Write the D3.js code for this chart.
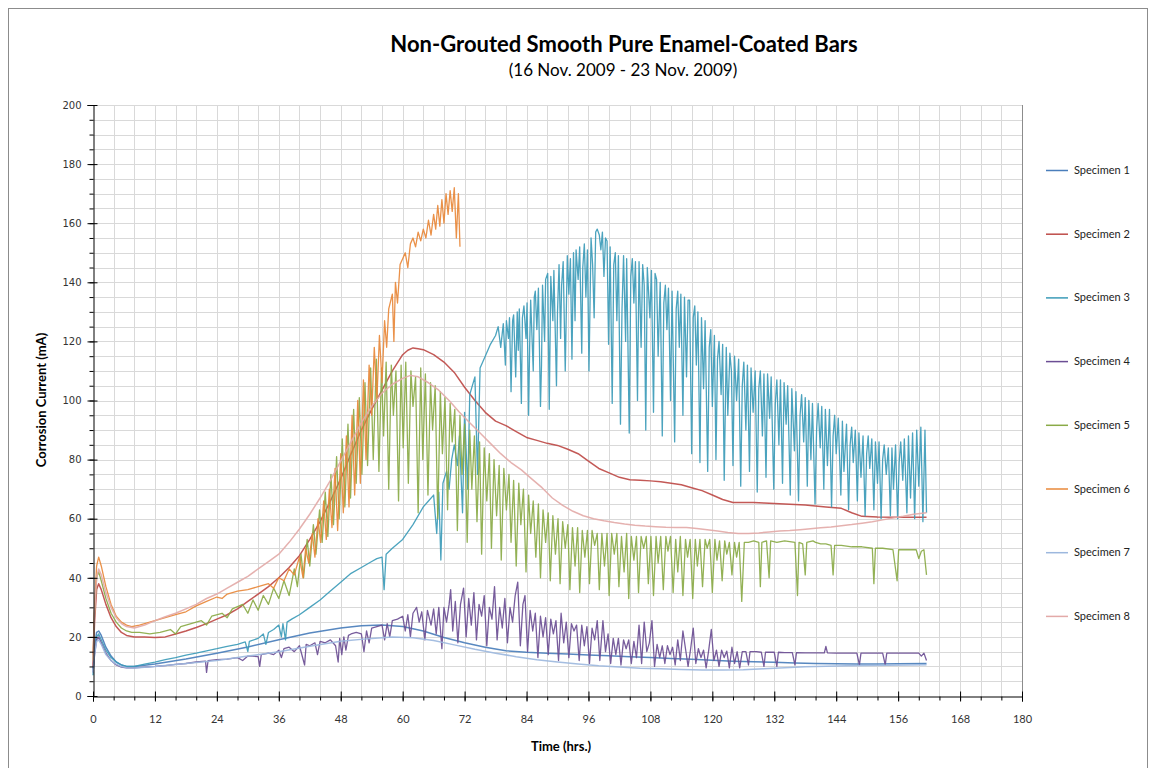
<!DOCTYPE html>
<html><head><meta charset="utf-8">
<script src="https://cdn.jsdelivr.net/npm/d3@7"></script>
<style>body{margin:0;background:#fff} svg{display:block}</style>
</head><body><svg id="c" width="1150" height="768"></svg>
<script>
const xTicks = [0,12,24,36,48,60,72,84,96,108,120,132,144,156,168,180];
const yTicks = [0,20,40,60,80,100,120,140,160,180,200];
const seriesNames = ["Specimen 1","Specimen 2","Specimen 3","Specimen 4","Specimen 5","Specimen 6","Specimen 7","Specimen 8"];
const seriesColors = ["#4A7EBB","#BE4B48","#3C9BB8","#6B4E94","#8AAA47","#E8883A","#9DB8DE","#E3AAA8"];

const spec1 = [[0,9],[0.3,17],[0.7,21.5],[1.1,22],[1.6,20.5],[2.5,16.5],[3.5,13.5],[4.5,11.5],[5.5,10.5],[6.5,10],[8,10],[12,10.8],[18,12.5],[24,14.5],[30,16.6],[36,19],[42,21.3],[48,23],[52,23.8],[56,24],[60,23.5],[64,22],[68,19.8],[72,18],[76,16.5],[80,15.3],[84,14.8],[88,14.5],[92,14.2],[96,13.9],[100,13.6],[104,13.3],[108,13],[112,12.7],[116,12.4],[120,12.1],[124,11.8],[128,11.6],[132,11.4],[136,11.2],[140,11],[144,10.9],[148,10.8],[152,10.8],[156,10.9],[161.5,11]];

const spec2 = [[0,10],[0.3,25],[0.7,36],[1.1,38],[1.6,36],[2.5,31],[3.5,26.5],[4.5,23.5],[5.5,21.5],[6.5,20.5],[8,20],[10,20],[12,19.8],[14,20],[16,21],[18,22],[20,23.2],[22,24.5],[24,26],[26,27.5],[28,29.5],[30,32],[32,34.5],[34,37],[36,40],[38,43.5],[40,47.5],[42,53],[44,59],[46,66],[48,73.5],[50,82],[52,90],[54,97],[56,103.5],[58,110],[60,115.5],[61,117],[62,117.8],[63,117.5],[64,117.2],[66,115.5],[68,113],[70,109.5],[72,104.5],[74,100],[76,96],[78,93],[80,91.5],[82,89.5],[84,87.5],[86,86.5],[88,85.5],[90,84.8],[92,83.5],[94,82],[96,79.5],[98,77],[100,75.5],[102,74],[104,73.2],[106,73],[108,72.8],[110,72.5],[112,72],[114,71.5],[116,70.5],[118,69.5],[120,68],[122,66.5],[124,65.5],[126,65.5],[128,65.5],[130,65.3],[134,65],[138,64.6],[142,64],[145,63.5],[147,62],[149,60.8],[152,60.6],[156,60.5],[161.5,60.5]];

const spec3 = [[0,7],[0.3,15],[0.7,20],[1.1,21],[1.6,19],[2.5,15.5],[3.5,13],[4.5,11.5],[5.5,10.5],[6.5,10],[8,10],[10,10.8],[12,11.5],[14,12.3],[16,13],[18,13.8],[20,14.5],[22,15.3],[24,16],[26,16.8],[28,17.5],[29.5,18.3],[30,15],[30.3,18.5],[32,19.5],[33,21],[33.5,17.5],[34,21.5],[35,22.5],[36,24],[36.5,20],[36.8,24.5],[37.3,19],[37.6,25],[38.5,26],[40,27.5],[42,30],[44,32.5],[45,34],[46,35.5],[48,38.5],[50,41.5],[52,43.5],[54,45.5],[55,46.5],[56,47],[56.4,36],[56.8,48],[58,50],[60,53],[62,58],[64,64],[65,66],[66,68],[66.6,55],[67,69],[67.4,46],[67.8,72],[68.5,76],[69,70],[69.5,80],[70,85],[70.6,78],[71,88],[71.6,62],[72,96],[72.6,70],[73,102],[74,108],[74.5,75],[75,111],[76,115],[77,119],[78,122],[78.5,125],[79,118],
[79.5,126],[79.9,112],[80.1,127],[80.5,121],[80.7,128],[81,103],[81.3,127],[81.5,129],[81.9,108],[82.2,130],[82.4,117],[82.6,131],[83,99],[83.2,128],[83.5,132],[83.9,121],[84.1,133],[84.4,95],[84.6,118],[84.8,134],[85.3,110],[85.5,135],[85.7,137],[86,124],[86.3,138],[86.7,98],[86.9,112],[87.1,139],[87.5,120],[87.7,141],[88.1,143],[88.4,97],[88.7,142],[89.1,127],[89.3,144],[89.8,105],[90,130],[90.3,146],[90.6,121],[90.8,139],[91.1,147],[91.5,110],[91.9,149],[92.2,136],[92.5,148],[92.8,114],[93.1,150],[93.4,127],[93.6,151],[94,141],[94.3,152],[94.7,116],[94.9,145],[95.2,153],[95.5,135],[95.8,151],[96.1,110],[96.5,155],[96.8,146],[97.1,128],[97.4,157],[97.7,158],[98.1,156],[98.4,151],[98.7,157],[99,142],[99.3,155],[99.6,154],[99.9,119],[100.2,152],[100.6,99],[100.9,146],[101.2,150],[101.5,127],[101.8,149],[102.2,92],[102.5,131],[102.8,149],[103.2,120],[103.4,148],[103.9,89],[104.2,142],[104.5,148],[104.8,133],[105.1,147],[105.5,100],[105.8,147],[106.2,118],[106.5,146],[106.8,139],[107.1,90],[107.4,145],[107.9,128],[108.2,144],[108.6,96],[108.9,143],[109.2,141],[109.5,115],[109.9,140],[110.3,88],[110.6,133],[110.9,139],[111.2,124],[111.5,138],[111.9,100],[112.2,137],[112.7,86],[113,131],[113.3,137],[113.6,118],[113.9,136],[114.3,95],[114.6,135],[115,108],[115.3,134],[115.6,134],[116,82],[116.3,128],[116.6,132],[116.9,112],[117.2,130],[117.6,79],[117.9,128],[118.3,104],[118.6,127],[119.1,76],[119.4,118],[119.7,124],[120,98],[120.4,122],[120.7,80],[121,114],[121.3,120],[121.7,102],[122,119],[122.3,73],[122.7,118],[123,95],[123.4,116],[123.7,110],[124,78],[124.3,115],[124.7,100],[125.1,114],[125.5,71],[125.8,105],[126.1,113],[126.5,90],[126.8,112],[127.2,76],[127.5,111],[127.9,96],[128.3,110],[128.7,69],[129,104],[129.3,110],[129.7,88],[130,109],[130.4,74],[130.7,109],[131.1,94],[131.4,108],[131.9,70],[132.2,99],[132.5,107],[132.9,85],[133.2,107],[133.6,72],[133.9,106],[134.3,92],[134.6,105],[135.1,68],[135.4,104],[135.9,83],[136.2,103],[136.7,66],[137,95],[137.3,102],[137.7,86],[138,101],[138.4,71],[138.7,100],[139.1,80],[139.4,99],[139.9,65],[140.2,90],[140.5,99],[140.9,84],[141.2,98],[141.6,70],[141.9,97],[142.3,78],[142.7,97],[143.1,64],[143.4,88],[143.7,95],[144,82],[144.4,94],[144.9,68],[145.2,93],[145.5,76],[146,92],[146.4,63],[146.7,85],[147,91],[147.3,79],[147.7,90],[148.1,66],[148.4,89],[148.8,74],[149.2,88],[149.6,61],[149.9,82],[150.2,88],[150.5,77],[150.9,87],[151.3,63],[151.6,86],[152,72],[152.3,86],[152.7,60],[153,80],[153.3,85],[153.7,75],[154.1,84],[154.5,61],[154.8,84],[155.1,70],[155.5,85],[155.9,60],[156.2,79],[156.5,86],[156.9,73],[157.2,87],[157.7,62],[158,88],[158.4,67],[158.8,89],[159.2,60],[159.6,90],[160,71],[160.4,91],[160.8,59],[161.2,90],[161.5,62]];

const spec4 = [[0,8],[0.3,14],[0.7,19],[1.1,20],[1.6,18],[2.5,14.5],[3.5,12],[4.5,10.5],[5.5,9.8],[6.5,9.5],[8,9.5],[10,9.8],[12,10],[14,10.3],[16,10.7],[18,11],[20,11.5],[21.8,11.8],[22,8],[22.3,12],[24,12.3],[26,12.5],[28,13],[29,12],[30,13.5],[31,13.5],[32,13.3],[32.3,10],[32.6,14],[34,14.5],[35,14],[36,15.5],[36.5,13],[37,16],[38,16.5],[39,15],[40,17],[41,10.5],[41.3,17.5],[42,17],[43,18],[43.5,14],[44,18.5],[45,18],[46,19],[47,17],[47.5,11.5],[47.8,19.5],[48.2,14],[48.6,20],[49,15.5],[49.5,20.5],[50,21],[51,21.5],[52,21],[52.5,15],[53,22],[53.5,18],[54,23],[55,23.5],[56,24],[56.5,19],[57,24.5],[57.5,20],[58,25.5],[59,26],
[60,27],[60.5,22],[61,27.5],[61.5,20],[62,28],[62.7,30],[63.2,25],[63.7,28.5],[64.3,19],[64.8,29],[65.5,24],[66,29.5],[66.5,21],[67,30],[67.6,16],[68,30],[68.5,25],[69,31],[69.3,36],[69.7,22],[70.2,32],[70.7,18],[71.2,31],[71.8,36.5],[72.3,20],[72.8,33],[73.3,24],[73.8,35],[74.3,19],[74.8,31],[75.3,27],[75.8,34],[76.3,17],[76.8,30],[77.3,26],[77.8,37],[78.3,19],[78.8,30],[79.3,23],[79.8,33],[80.3,18],[80.8,30],[81.3,25],[81.8,34],[82.3,38.5],[82.8,17],[83.3,31],[83.7,34],[84.2,15],[84.7,29],[85.2,22],[85.7,28],[86.2,13],[86.7,27],[87.2,20],[87.7,26.5],[88.2,14],[88.7,26],[89.2,21],[89.7,25.5],[90.2,12],[90.7,28],[91.2,18],[91.7,25],[92.2,13],[92.7,24.5],[93.2,22],[93.7,24],[94.2,12],[94.7,24],[95.2,17],[95.7,23.5],[96.2,11],[96.7,23],[97.2,19],[97.7,25.5],[98.2,12],[98.8,25.5],[99.3,15],[99.8,21],[100.3,11],[100.8,19.5],[101.3,14],[101.8,19.5],[102.3,10.5],[102.8,19],[103.3,16],[103.8,19],[104.3,11],[104.8,18.5],[105.3,13],[105.8,24],[106.3,11],[106.8,25],[107.3,15],[107.8,18],[108.3,25.5],[108.8,10],[109.3,17.5],[109.8,13],[110.3,17],[110.8,11],[111.3,17],[111.8,14],[112.3,16.5],[112.8,10.5],[113.3,19],[113.8,12],[114.3,22],[114.8,16],[115.3,10],[115.8,16],[116.3,23],[116.8,11],[117.3,16],[117.8,13],[118.3,15.5],[118.8,9.5],[119.3,15.5],[119.8,22.5],[120.3,12],[120.8,15.5],[121.3,10],[121.8,15.5],[122.3,13],[122.8,15.2],[123.3,9.5],[123.8,16.5],[124.3,11],[124.8,15],[125.3,9.5],[125.8,15],[126.5,15],[127,10.5],[127.3,15],[128.5,15],[129.5,14.8],[130,10],[130.3,14.8],[132,14.8],[132.5,10],[132.8,14.8],[134,14.7],[135.5,14.7],[136,10.5],[136.3,14.7],[138,14.6],[140,14.6],[141.7,14.6],[142,16.8],[142.3,14.6],[144,14.5],[146,14.5],[148,14.5],[148.5,10.5],[148.8,14.5],[151,14.5],[153,14.5],[153.5,10.5],[153.8,14.5],[156,14.5],[158,14.5],[160,14.5],[160.5,13.5],[161,14.5],[161.5,12]];

const spec5 = [[0,12],[0.3,28],[0.7,40],[1.1,42],[1.6,39],[2.5,33],[3.5,28],[4.5,25],[5.5,23],[6.5,22],[7.5,21.5],[9,21.5],[11,21],[13,21.5],[15,22.5],[16,21],[17,23.5],[19,24.5],[21,25.5],[22,24],[23,27],[25,28],[26,26.5],[27,29.5],[29,31],[30,28],[31,32.5],[32,29],[33,34],[34,31],[35,36.5],[36,33],[37,39],[38,34],[39,43],[39.6,37],[40.3,48],[40.8,40],[41.5,53],[42,44],[42.7,58],[43.2,48],[43.9,63],[44.4,52],[45,69],[45.5,54],[46.1,75],[46.6,58],[47.2,81],[47.7,60],[48.3,87],[48.8,64],[49.4,92],[49.9,67],[50.5,97],[51,72],[51.6,101],[52.1,75],[52.7,106],[53.2,78],[53.8,111],[54.3,80],
[54.9,114],[55.4,76],[55.9,111],[56.3,88],[56.8,113],[57.3,70],[57.8,112],[58.2,95],[58.7,110],[59.2,66],[59.7,112],[60.1,84],[60.6,113],[61.1,72],[61.6,110],[62,98],[62.5,108],[63,62],[63.5,111],[63.9,80],[64.4,109],[64.9,68],[65.4,106],[65.8,90],[66.3,105],[66.8,60],[67.3,103],[67.7,82],[68.2,101],[68.7,63],[69.2,99],[69.6,86],[70.1,97],[70.6,56],[71.1,95],[71.5,75],[72,92],[72.5,52],[73,90],[73.4,70],[73.9,88],[74.4,59],[74.9,86],[75.3,48],[75.8,84],[76.3,66],[76.8,82],[77.2,50],[77.7,80],[78.2,61],[78.7,78],[79.1,46],[79.6,77],[80.1,63],[80.6,75],[81,52],[81.5,73],[82,44],[82.5,72],[82.9,58],[83.4,70],[83.9,42],[84.4,68],[84.8,55],[85.3,66],[85.8,47],[86.3,65],[86.7,40],[87.2,63],[87.7,52],[88.2,62],[88.6,39],[89.1,61],[89.6,48],[90.1,60],[90.5,38],[91,59],[91.5,50],[92,58],[92.4,36],[92.9,57],[93.4,44],[93.9,57],[94.3,35],[94.8,56],[95.3,47],[95.8,56],[96.2,38],[96.7,56],[97.2,51],[97.7,55],[98.1,36],[98.6,55],[99.1,44],[99.6,55],[100,34],[100.5,55],[101,48],[101.5,55],[101.9,37],[102.4,54],[102.9,42],[103.4,55],[103.8,33],[104.3,54],[104.8,46],[105.3,54],[105.7,35],[106.2,54],[106.7,50],[107.2,54],[107.6,38],[108.1,54],[108.6,34],[109.1,54],[109.5,45],[110,54],[110.5,36],[111,54],[111.4,49],[111.9,54],[112.4,35],[112.9,53],[113.3,42],[113.8,54],[114.3,34],[114.8,53],[115.2,47],[115.7,53],[116.2,33],[116.7,53],[117.1,44],[117.6,53],[118.1,37],[118.6,53],[119,50],[119.5,53],[120,35],[120.5,53],[120.9,46],[121.4,52.5],[121.9,39],[122.4,52.5],[122.8,48],[123.3,52],[123.8,41],[124.3,52],[124.7,47],[125.2,52],[125.7,32],[126.2,52],
[127,52],[128,52.5],[129,52],[129.3,37],[129.6,52],[130.5,52.5],[131,40],[131.3,52.5],[132.5,52],[134,52.5],[136,52],[136.5,34],[136.8,52],[137.5,51.5],[138,41],[138.3,52],[139.5,52.5],[140,52],[141,51.5],[142,51.5],[143,51],[143.4,41],[143.7,51],[145,51],[147,50.5],[149,50.5],[151,50],[151.3,38],[151.6,50],[153,50],[155,49.5],[155.8,39],[156.1,49.5],[158,49.5],[159.5,49.5],[160,46.5],[160.5,49],[161,49.5],[161.5,41]];

const spec6 = [[0,14],[0.3,30],[0.7,44],[1.1,47],[1.6,44],[2.5,37],[3.5,31],[4.5,27],[5.5,25],[6.5,24],[7.5,23.5],[9,24],[10,24.5],[12,25.5],[14,26.5],[16,27.5],[18,28.5],[20,30.5],[22,32],[24,33.5],[25,33],[26,34.5],[28,35.5],[30,36],[32,37],[34,38],[35,36.5],[36,40],[37,39],[38,43],[39,41],[40,47],[40.7,40],[41.2,50],[41.8,45],[42.5,55],[43,47],[43.6,60],[44.1,52],[44.7,66],[45.2,53],[45.8,70],[46.3,57],[46.9,77],[47.4,56],[48,82],[48.5,62],[49.1,88],[49.6,64],[50.2,95],[50.7,68],[51.3,100],[51.8,72],[52.4,107],[52.9,80],[53.5,112],[54,95],[54.5,118],[55,100],[55.5,122],[56,106],[56.5,127],[56.9,118],[57.3,131],[58,136],[58.3,120],[58.6,140],[59,133],[59.5,146],[60,148],[60.5,150],[61,145],[61.5,153],[62,155],[62.5,152],[63,157],[63.5,154],[64,158],[64.5,155],[65,161],[65.5,156],[66,163],[66.4,158],[66.8,166],[67.2,159],[67.6,168],[68,160],[68.4,170],[68.8,163],[69.2,171],[69.6,164],[70,172],[70.4,155],[70.8,170],[71.1,152]];

const spec7 = [[0,8],[0.3,14],[0.7,18.5],[1.1,19],[1.6,17.5],[2.5,14],[3.5,12],[4.5,10.8],[5.5,10],[6.5,9.6],[8,9.5],[12,10],[18,11],[24,12],[30,13.5],[36,15],[42,16.8],[48,18.5],[54,19.5],[58,20],[62,19.7],[66,18.8],[70,17.3],[74,15.8],[78,14.5],[82,13.3],[86,12.3],[90,11.5],[94,10.8],[98,10.2],[102,9.8],[106,9.4],[110,9.2],[114,9],[118,8.8],[122,8.8],[126,8.9],[130,9.2],[134,9.6],[138,9.9],[142,10.1],[146,10.2],[150,10.3],[154,10.4],[158,10.5],[161.5,10.6]];

const spec8 = [[0,12],[0.3,28],[0.7,40],[1.1,43],[1.6,41],[2.5,35],[3.5,30],[4.5,26.5],[5.5,24.5],[6.5,23.5],[8,23],[10,24],[12,25.5],[14,26.8],[16,28],[18,29.5],[20,31],[22,33],[24,34.5],[26,36.5],[28,38.5],[30,40.5],[32,43],[34,45.5],[36,48],[38,52],[40,56.5],[42,61.5],[44,67],[46,73],[48,79.5],[50,86],[52,92.5],[54,98],[56,102.5],[58,105.5],[60,107.5],[61.5,108.5],[63,108],[65,106],[67,103.5],[69,100],[71,96],[73,92.5],[75,89],[77,85.5],[79,82],[81,79],[83,76.5],[85,73.5],[87,70.5],[89,67],[91,64.5],[93,62.5],[95,61],[97,60],[99,59.3],[101,58.7],[103,58.2],[105,57.8],[107,57.5],[109,57.3],[111,57.1],[113,57],[115,57],[117,56.7],[119,56.3],[121,55.8],[123,55.3],[125,55],[127,55],[129,55.2],[131,55.5],[133,55.8],[135,56],[137,56.3],[139,56.6],[141,56.9],[143,57.2],[145,57.6],[147,58],[149,58.5],[151,59],[153,59.6],[155,60.2],[157,60.8],[159,61.5],[161.5,62]];

const allSeries = [spec1,spec2,spec3,spec4,spec5,spec6,spec7,spec8];

const svg = d3.select("#c");
const L=93, R=1022, T=105, B=696;
const x = d3.scaleLinear().domain([0,180]).range([L,R]);
const y = d3.scaleLinear().domain([0,200]).range([B,T]);

svg.append("rect").attr("x",8.5).attr("y",8.5).attr("width",1139).attr("height",770).attr("fill","#fff").attr("stroke","#8c8c8c");

const grid = svg.append("g");
grid.selectAll("line.v").data(d3.range(4,181,4)).join("line")
  .attr("x1",d=>Math.round(x(d))+0.5).attr("x2",d=>Math.round(x(d))+0.5).attr("y1",T).attr("y2",B)
  .attr("stroke","#d9d9d9");
grid.selectAll("line.h").data(d3.range(5,201,5)).join("line")
  .attr("y1",d=>Math.round(y(d))+0.5).attr("y2",d=>Math.round(y(d))+0.5).attr("x1",L).attr("x2",R)
  .attr("stroke","#d9d9d9");
svg.append("line").attr("x1",R+0.5).attr("x2",R+0.5).attr("y1",T).attr("y2",B).attr("stroke","#8c8c8c");

const line = d3.line().x(d=>x(d[0])).y(d=>y(d[1]));
svg.append("g").selectAll("path").data(allSeries).join("path")
  .attr("d",line).attr("fill","none")
  .attr("stroke",(d,i)=>seriesColors[i]).attr("stroke-width",(d,i)=>(i===2||i===3||i===4||i===5)?1.3:1.5)
  .attr("stroke-linejoin","round").attr("opacity",0.92);

const yMinor = svg.append("g").attr("transform",`translate(${L+0.5},0)`)
  .call(d3.axisLeft(y).tickValues(d3.range(0,201,5)).tickSize(4).tickFormat(""));
const yAxis = svg.append("g").attr("transform",`translate(${L+0.5},0)`)
  .call(d3.axisLeft(y).tickValues(yTicks).tickSize(6).tickPadding(6));
yAxis.selectAll(".tick line").attr("x2",-6).attr("x1",4);
const xMinor = svg.append("g").attr("transform",`translate(0,${B+0.5})`)
  .call(d3.axisBottom(x).tickValues(d3.range(0,181,4)).tickSize(4).tickFormat(""));
const xAxis = svg.append("g").attr("transform",`translate(0,${B+0.5})`)
  .call(d3.axisBottom(x).tickValues(xTicks).tickSize(5).tickPadding(14));
xAxis.selectAll(".tick line").attr("y1",-5).attr("y2",5);
[yMinor,yAxis,xMinor,xAxis].forEach(g=>{g.selectAll("path.domain").attr("stroke","#000");g.selectAll(".tick line").attr("stroke","#000");});
yAxis.selectAll("text").attr("font-family","DejaVu Sans, Verdana, sans-serif").attr("font-size",10).attr("fill","#333");
xAxis.selectAll("text").attr("font-family","Lato, sans-serif").attr("font-size",11).attr("fill","#333");
yMinor.select("path.domain").remove(); xMinor.select("path.domain").remove();

svg.append("text").attr("x",624).attr("y",52).attr("text-anchor","middle")
  .attr("font-family","Lato, sans-serif").attr("font-weight","bold").attr("font-size",22).text("Non-Grouted Smooth Pure Enamel-Coated Bars");
svg.append("text").attr("x",623).attr("y",76).attr("text-anchor","middle")
  .attr("font-family","Lato, sans-serif").attr("font-size",17).text("(16 Nov. 2009 - 23 Nov. 2009)");
svg.append("text").attr("transform","translate(46,400) rotate(-90)").attr("text-anchor","middle")
  .attr("font-family","Lato, sans-serif").attr("font-weight","bold").attr("font-size",13).text("Corrosion Current (mA)");
svg.append("text").attr("x",561).attr("y",751).attr("text-anchor","middle")
  .attr("font-family","Lato, sans-serif").attr("font-weight","bold").attr("font-size",13).text("Time (hrs.)");

const leg = svg.append("g").selectAll("g").data(seriesNames).join("g")
  .attr("transform",(d,i)=>`translate(1046,${170+i*63.7})`);
leg.append("line").attr("x1",0).attr("x2",22).attr("y1",0.5).attr("y2",0.5)
  .attr("stroke",(d,i)=>seriesColors[i]).attr("stroke-width",1.5);
leg.append("text").attr("x",28).attr("y",4).attr("font-family","Lato, sans-serif").attr("font-size",11).attr("fill","#222").text(d=>d);
</script></body></html>
